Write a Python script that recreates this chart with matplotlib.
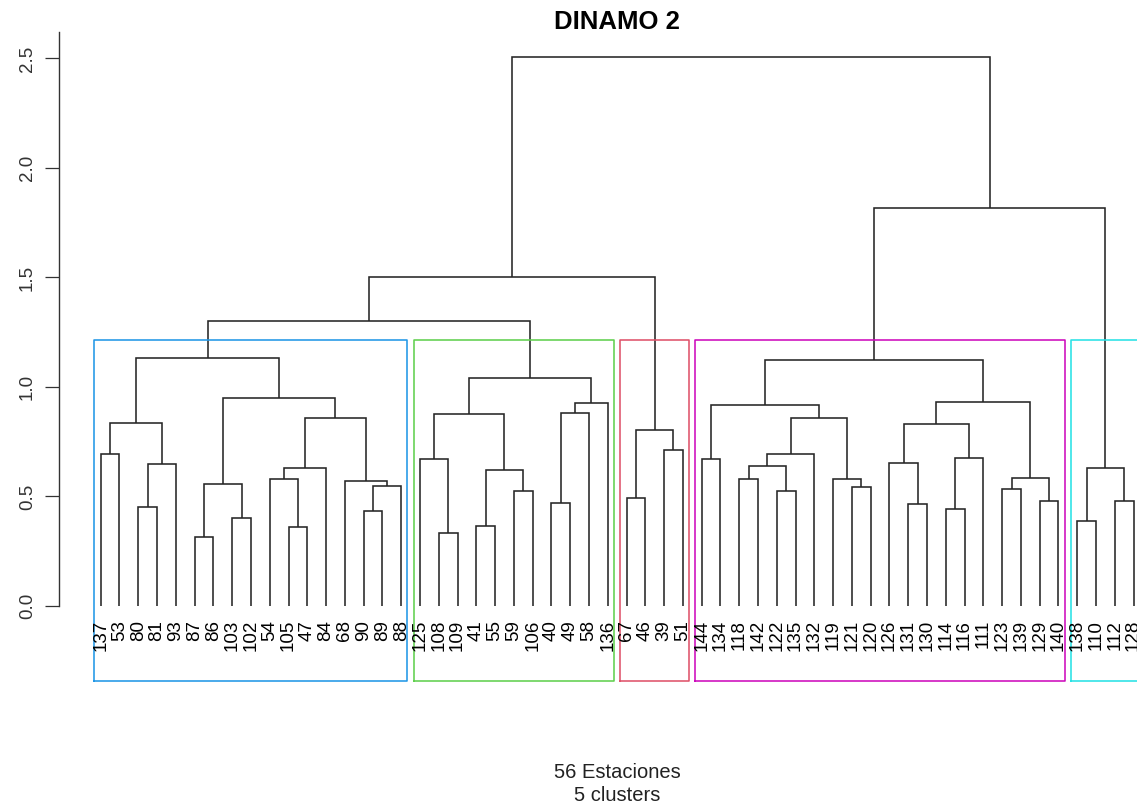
import matplotlib
matplotlib.use("Agg")
import matplotlib.pyplot as plt
import matplotlib.transforms as mtransforms

plt.rcParams['font.family'] = ['Liberation Sans', 'DejaVu Sans']

# ---- data ----
title = "DINAMO 2"
subtitle = "56 Estaciones\n5 clusters"

leaf_labels = ["137", "53", "80", "81", "93", "87", "86", "103", "102", "54", "105", "47",
               "84", "68", "90", "89", "88",
               "125", "108", "109", "41", "55", "59", "106", "40", "49", "58", "136",
               "67", "46", "39", "51",
               "144", "134", "118", "142", "122", "135", "132", "119", "121", "120",
               "126", "131", "130", "114", "116", "111", "123", "139", "129", "140",
               "138", "110", "112", "128"]

# merges: (left, right, height); str = leaf label, int = index of earlier merge
merges = [
    ("137", "53", 0.694),   # 0
    ("80", "81", 0.453),    # 1
    (1, "93", 0.647),       # 2
    (0, 2, 0.834),          # 3
    ("87", "86", 0.316),    # 4
    ("103", "102", 0.403),  # 5
    (4, 5, 0.555),          # 6
    ("105", "47", 0.359),   # 7
    ("54", 7, 0.578),       # 8
    (8, "84", 0.628),       # 9
    ("90", "89", 0.434),    # 10
    (10, "88", 0.549),      # 11
    ("68", 11, 0.572),      # 12
    (9, 12, 0.859),         # 13
    (6, 13, 0.948),         # 14
    (3, 14, 1.131),         # 15
    ("108", "109", 0.332),  # 16
    ("125", 16, 0.671),     # 17
    ("41", "55", 0.367),    # 18
    ("59", "106", 0.525),   # 19
    (18, 19, 0.621),        # 20
    (17, 20, 0.876),        # 21
    ("40", "49", 0.470),    # 22
    (22, "58", 0.882),      # 23
    (23, "136", 0.925),     # 24
    (21, 24, 1.039),        # 25
    (15, 25, 1.301),        # 26
    ("67", "46", 0.494),    # 27
    ("39", "51", 0.712),    # 28
    (27, 28, 0.803),        # 29
    (26, 29, 1.503),        # 30
    ("144", "134", 0.669),  # 31
    ("118", "142", 0.578),  # 32
    ("122", "135", 0.523),  # 33
    (32, 33, 0.640),        # 34
    (34, "132", 0.694),     # 35
    ("121", "120", 0.543),  # 36
    ("119", 36, 0.578),     # 37
    (35, 37, 0.857),        # 38
    (31, 38, 0.917),        # 39
    ("131", "130", 0.464),  # 40
    ("126", 40, 0.651),     # 41
    ("114", "116", 0.444),  # 42
    (42, "111", 0.677),     # 43
    (41, 43, 0.832),        # 44
    ("123", "139", 0.536),  # 45
    ("129", "140", 0.481),  # 46
    (45, 46, 0.586),        # 47
    (44, 47, 0.931),        # 48
    (39, 48, 1.124),        # 49
    ("138", "110", 0.389),  # 50
    ("112", "128", 0.481),  # 51
    (50, 51, 0.628),        # 52
    (49, 52, 1.815),        # 53
    (30, 53, 2.507),        # 54
]

cluster_sizes = [17, 11, 4, 20, 4]
cluster_colors = ["#2297E6", "#61D04F", "#DF536B", "#CD0BBC", "#28E2E5"]
n_clusters = 5

yticks = [0.0, 0.5, 1.0, 1.5, 2.0, 2.5]

# ---- figure ----
W, H = 1137, 808
fig = plt.figure(figsize=(W / 100, H / 100), dpi=100)
ax_left, ax_right, ax_top, ax_bottom = 59.4, 1174.9, 35.0, 680.7
ax = fig.add_axes([ax_left / W, 1 - ax_bottom / H,
                   (ax_right - ax_left) / W, (ax_bottom - ax_top) / H])

leaf_x = {lab: i + 1 for i, lab in enumerate(leaf_labels)}
node_x, node_y = [], []

def pos(ref):
    if isinstance(ref, str):
        return leaf_x[ref], 0.0
    return node_x[ref], node_y[ref]

line_kw = dict(color="#262626", lw=1.15, solid_capstyle="butt", solid_joinstyle="miter")
for a, b, h in merges:
    xa, ya = pos(a)
    xb, yb = pos(b)
    ax.plot([xa, xa, xb, xb], [ya, h, h, yb], **line_kw)
    node_x.append((xa + xb) / 2)
    node_y.append(h)

ylo, yhi = -0.341, 2.607
ax.set_xlim(-1.2, 58.2)
ax.set_ylim(ylo, yhi)

# cluster rectangles (as rect.hclust)
heights_sorted = sorted([m[2] for m in merges], reverse=True)
rect_top = (heights_sorted[n_clusters - 2] + heights_sorted[n_clusters - 1]) / 2
start = 0
for size, col in zip(cluster_sizes, cluster_colors):
    x0 = start + 0.66
    x1 = start + size + 0.33
    ax.plot([x0, x0, x1, x1, x0], [ylo, rect_top, rect_top, ylo, ylo],
            color=col, lw=1.15, clip_on=False)
    start += size

# leaf labels
offset = mtransforms.offset_copy(ax.transData, fig=fig, x=0, y=-14, units="dots")
for lab in leaf_labels:
    ax.text(leaf_x[lab], 0, lab, rotation=90, ha="center", va="top",
            fontsize=13.5, transform=offset, color="black")

# axes styling
for s in ["top", "right", "bottom"]:
    ax.spines[s].set_visible(False)
ax.spines["left"].set_bounds(0, 2.62)
ax.spines["left"].set_linewidth(1.0)
ax.spines["left"].set_color("#333333")
ax.set_xticks([])
ax.set_yticks(yticks)
ax.set_yticklabels([f"{v:.1f}" for v in yticks], rotation=90, va="center",
                   fontsize=13.5, color="#333333")
ax.tick_params(axis="y", length=10, width=0.9, pad=7, color="#333333")

cx = ((ax_left + ax_right) / 2) / W
fig.text(cx, 1 - 22 / H, title, ha="center", va="center", fontsize=18.5,
         fontweight="bold", color="black")
fig.text(cx, 1 - 784 / H, subtitle, ha="center", va="center", fontsize=14.5,
         linespacing=1.3, color="#222222")

fig.savefig("out.png", dpi=100)
